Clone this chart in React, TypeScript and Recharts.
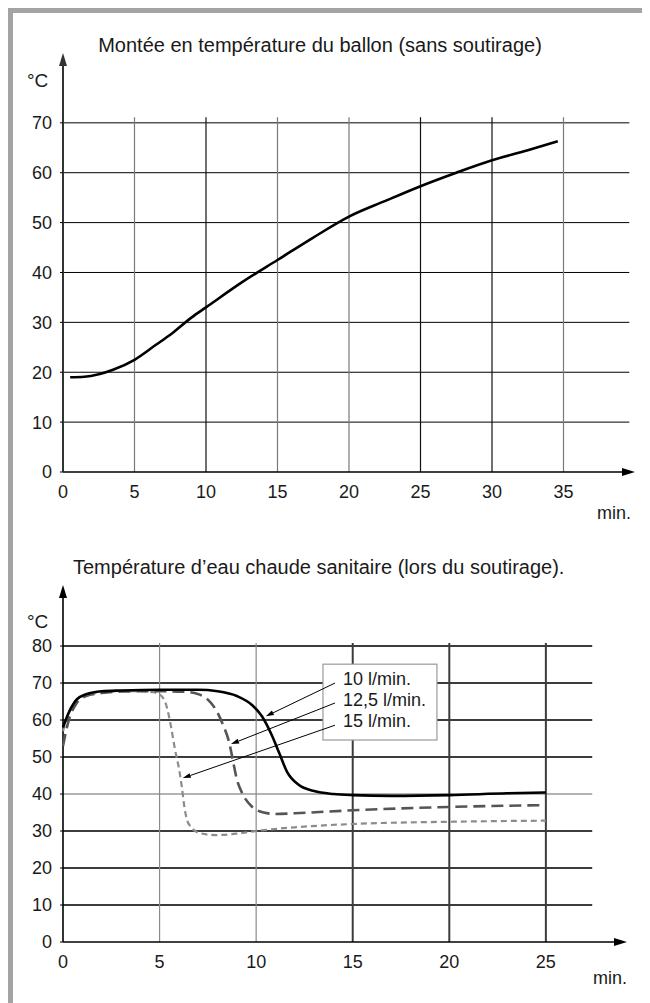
import React from 'react';
import { LineChart, Line, XAxis, YAxis, ReferenceLine } from 'recharts';

// --- courbe du haut : montée en température du ballon (sans soutirage)
const riseMinutes = [0.5, 1.5, 2.5, 3.5, 5, 6.5, 7.5, 9, 10, 12.5, 15, 17.5, 20, 22.5, 25, 27.5, 30, 32.5, 34.6];
const riseTemps = [19, 19.1, 19.6, 20.5, 22.5, 25.5, 27.5, 31, 33, 38, 42.5, 47, 51.2, 54.3, 57.3, 60, 62.5, 64.5, 66.3];

const topXTicks = [0, 5, 10, 15, 20, 25, 30, 35];
const topYTicks = [0, 10, 20, 30, 40, 50, 60, 70];

// --- courbes du bas : température ECS lors du soutirage
const flow10Minutes = [0, 0.3, 0.7, 1.2, 2, 3, 5, 7, 8, 9, 9.8, 10.3, 10.8, 11.2, 11.6, 12.2, 13, 14, 15, 17, 20, 23, 25];
const flow10Temps = [58, 62, 65.5, 67, 67.8, 68, 68.2, 68.2, 67.8, 66.5, 64, 61, 56, 51, 46, 42.5, 40.8, 40, 39.7, 39.5, 39.7, 40.2, 40.4];

const flow125Minutes = [0, 0.3, 0.7, 1.2, 2, 3, 5, 6.4, 7, 7.5, 8, 8.3, 8.6, 8.8, 9, 9.3, 9.8, 10.4, 11, 12, 15, 20, 25];
const flow125Temps = [53, 60, 64.5, 66.5, 67.3, 67.7, 67.8, 67.6, 67, 65.5, 62, 58.5, 54, 49, 44, 40, 36.5, 35, 34.6, 34.8, 35.6, 36.5, 37];

const flow15Minutes = [0, 0.3, 0.7, 1.2, 2, 3, 4, 4.7, 5.1, 5.4, 5.6, 5.8, 6, 6.15, 6.3, 6.5, 7.1, 7.9, 9, 10, 12, 15, 20, 25];
const flow15Temps = [57, 62, 65.5, 66.8, 67.5, 67.8, 67.8, 67.5, 66.5, 63, 58, 52, 47, 42, 36, 32, 29.4, 28.9, 29.3, 30, 31, 31.9, 32.5, 32.8];

const bottomXTicks = [0, 5, 10, 15, 20, 25];
const bottomYTicks = [0, 10, 20, 30, 40, 50, 60, 70, 80];

const legendLabels = ['10 l/min.', '12,5 l/min.', '15 l/min.'];
// départ des flèches (dans le cadre) et point visé sur chaque courbe
const calloutFrom = [
  { x: 14.08, y: 70 },
  { x: 14.08, y: 64.6 },
  { x: 14.08, y: 58.6 },
];
const calloutTo = [
  { x: 10.5, y: 61 },
  { x: 8.7, y: 53.5 },
  { x: 6.2, y: 44.3 },
];
// coins opposés du cadre de légende
const calloutBox = [
  { x: 13.46, y: 75.1 },
  { x: 19.36, y: 54.6 },
];

const toPoints = (xs: number[], ys: number[]) => xs.map((t, i) => ({ t, v: ys[i] }));

const FONT = '"Liberation Sans", Arial, sans-serif';
const TEXT = '#1a1a1a';

const arrowShape = (head: number, width: number, color: string, sw: number) => (p: any) => {
  const { x1, y1, x2, y2 } = p;
  const a = Math.atan2(y2 - y1, x2 - x1);
  const bx = x2 - head * Math.cos(a);
  const by = y2 - head * Math.sin(a);
  const nx = (-Math.sin(a) * width) / 2;
  const ny = (Math.cos(a) * width) / 2;
  return (
    <g>
      <line x1={x1} y1={y1} x2={bx} y2={by} stroke={color} strokeWidth={sw} />
      <polygon points={`${x2},${y2} ${bx + nx},${by + ny} ${bx - nx},${by - ny}`} fill={color} />
    </g>
  );
};

// rectangle blanc dessiné à partir de la diagonale du segment
const boxShape = (p: any) => {
  const { x1, y1, x2, y2 } = p;
  return (
    <rect
      x={Math.min(x1, x2)}
      y={Math.min(y1, y2)}
      width={Math.abs(x2 - x1)}
      height={Math.abs(y2 - y1)}
      fill="#fff"
      stroke="#9a9a9a"
      strokeWidth={1.2}
    />
  );
};

const tickStyle = { fill: TEXT, fontSize: 18, fontFamily: FONT };

const label = (text: string, style: React.CSSProperties) => (
  <div style={{ position: 'absolute', fontFamily: FONT, color: TEXT, whiteSpace: 'nowrap', ...style }}>{text}</div>
);

const TopChart = () => {
  const data = toPoints(riseMinutes, riseTemps);
  return (
    <LineChart width={642} height={520} margin={{ top: 45, right: 15, bottom: 26, left: 0 }}>
      <XAxis
        type="number"
        dataKey="t"
        domain={[0, 40]}
        ticks={topXTicks}
        axisLine={false}
        tickLine={false}
        tickSize={0}
        tickMargin={13}
        tick={tickStyle}
        height={30}
      />
      <YAxis
        type="number"
        domain={[0, 84]}
        ticks={topYTicks}
        axisLine={false}
        tickSize={3}
        tickMargin={8}
        tickLine={{ stroke: '#000' }}
        tick={tickStyle}
        width={55}
      />
      {topYTicks.slice(1).map((v) => (
        <ReferenceLine key={'h' + v} segment={[{ x: 0, y: v }, { x: 39.6, y: v }]} stroke="#000" strokeWidth={1} />
      ))}
      {topXTicks.slice(1).map((t) => (
        <ReferenceLine
          key={'v' + t}
          segment={[{ x: t, y: 0 }, { x: t, y: 71.1 }]}
          stroke={t === 10 || t === 25 || t === 30 ? '#111' : '#7a7a7a'}
          strokeWidth={1.2}
        />
      ))}
      <ReferenceLine segment={[{ x: 0, y: 0 }, { x: 40, y: 0 }]} shape={arrowShape(13, 8, '#000', 1.6)} />
      <ReferenceLine segment={[{ x: 0, y: 0 }, { x: 0, y: 84 }]} shape={arrowShape(13, 8, '#333', 2)} />
      <Line
        data={data}
        dataKey="v"
        type="monotone"
        stroke="#000"
        strokeWidth={2.6}
        dot={false}
        isAnimationActive={false}
      />
    </LineChart>
  );
};

const BottomChart = () => (
  <LineChart width={642} height={430} margin={{ top: 25, right: 23, bottom: 18, left: 0 }}>
    <XAxis
      type="number"
      dataKey="t"
      domain={[0, 29.2]}
      ticks={bottomXTicks}
      axisLine={false}
      tickLine={false}
      tickSize={0}
      tickMargin={13}
      tick={tickStyle}
      height={30}
    />
    <YAxis
      type="number"
      domain={[0, 96.5]}
      ticks={bottomYTicks}
      axisLine={false}
      tickSize={3}
      tickMargin={8}
      tickLine={{ stroke: '#000' }}
      tick={tickStyle}
      width={55}
    />
    {bottomYTicks.slice(1).map((v) => (
      <ReferenceLine
        key={'h' + v}
        segment={[{ x: 0, y: v }, { x: 27.4, y: v }]}
        stroke={v === 40 ? '#9a9a9a' : '#3c3c3c'}
        strokeWidth={v === 40 ? 1.3 : 2}
      />
    ))}
    {bottomXTicks.slice(1).map((t) => (
      <ReferenceLine
        key={'v' + t}
        segment={[{ x: t, y: 0 }, { x: t, y: 80.8 }]}
        stroke={t <= 10 ? '#8a8a8a' : '#3c3c3c'}
        strokeWidth={t <= 10 ? 1.2 : 2}
      />
    ))}
    <ReferenceLine segment={[{ x: 0, y: 0 }, { x: 29.2, y: 0 }]} shape={arrowShape(13, 8, '#000', 1.6)} />
    <ReferenceLine segment={[{ x: 0, y: 0 }, { x: 0, y: 96.5 }]} shape={arrowShape(13, 8, '#000', 1.6)} />
    <ReferenceLine segment={calloutBox} shape={boxShape} />
    {calloutFrom.map((from, i) => (
      <ReferenceLine
        key={'a' + i}
        segment={[from, calloutTo[i]]}
        shape={arrowShape(8, 5, '#000', 1)}
      />
    ))}
    <Line
      data={toPoints(flow15Minutes, flow15Temps)}
      dataKey="v"
      type="monotone"
      stroke="#8c8c8c"
      strokeWidth={2.2}
      strokeDasharray="6 4"
      dot={false}
      isAnimationActive={false}
    />
    <Line
      data={toPoints(flow125Minutes, flow125Temps)}
      dataKey="v"
      type="monotone"
      stroke="#555"
      strokeWidth={2.6}
      strokeDasharray="12 6"
      dot={false}
      isAnimationActive={false}
    />
    <Line
      data={toPoints(flow10Minutes, flow10Temps)}
      dataKey="v"
      type="monotone"
      stroke="#000"
      strokeWidth={2.6}
      dot={false}
      isAnimationActive={false}
    />
  </LineChart>
);

export default function App() {
  return (
    <div style={{ position: 'relative', width: 642, height: 995, background: '#fff' }}>
      <div
        style={{
          position: 'absolute',
          left: 0,
          top: 0,
          width: 642,
          height: 995,
          borderLeft: '5px solid #a3a3a3',
          borderTop: '5px solid #a3a3a3',
          boxSizing: 'border-box',
        }}
      />
      <div style={{ position: 'absolute', left: 0, top: 0 }}>
        <TopChart />
      </div>
      <div style={{ position: 'absolute', left: 0, top: 552 }}>
        <BottomChart />
      </div>
      {label('Montée en température du ballon (sans soutirage)', {
        left: 12, width: 600, top: 25, lineHeight: '24px', fontSize: 20, textAlign: 'center',
      })}
      {label('°C', { left: 19, top: 61, lineHeight: '24px', fontSize: 19 })}
      {label('min.', { left: 523, width: 100, top: 493, lineHeight: '24px', fontSize: 18, textAlign: 'right' })}
      {label('Température d’eau chaude sanitaire (lors du soutirage).', {
        left: 65, top: 547, lineHeight: '24px', fontSize: 20,
      })}
      {label('°C', { left: 19, top: 602, lineHeight: '24px', fontSize: 19 })}
      {label('min.', { left: 519, width: 100, top: 958, lineHeight: '24px', fontSize: 18, textAlign: 'right' })}
      <div style={{ position: 'absolute', left: 335, top: 661, fontFamily: FONT, color: TEXT, fontSize: 18, lineHeight: '21px' }}>
        {legendLabels.map((s) => (
          <div key={s}>{s}</div>
        ))}
      </div>
    </div>
  );
}
